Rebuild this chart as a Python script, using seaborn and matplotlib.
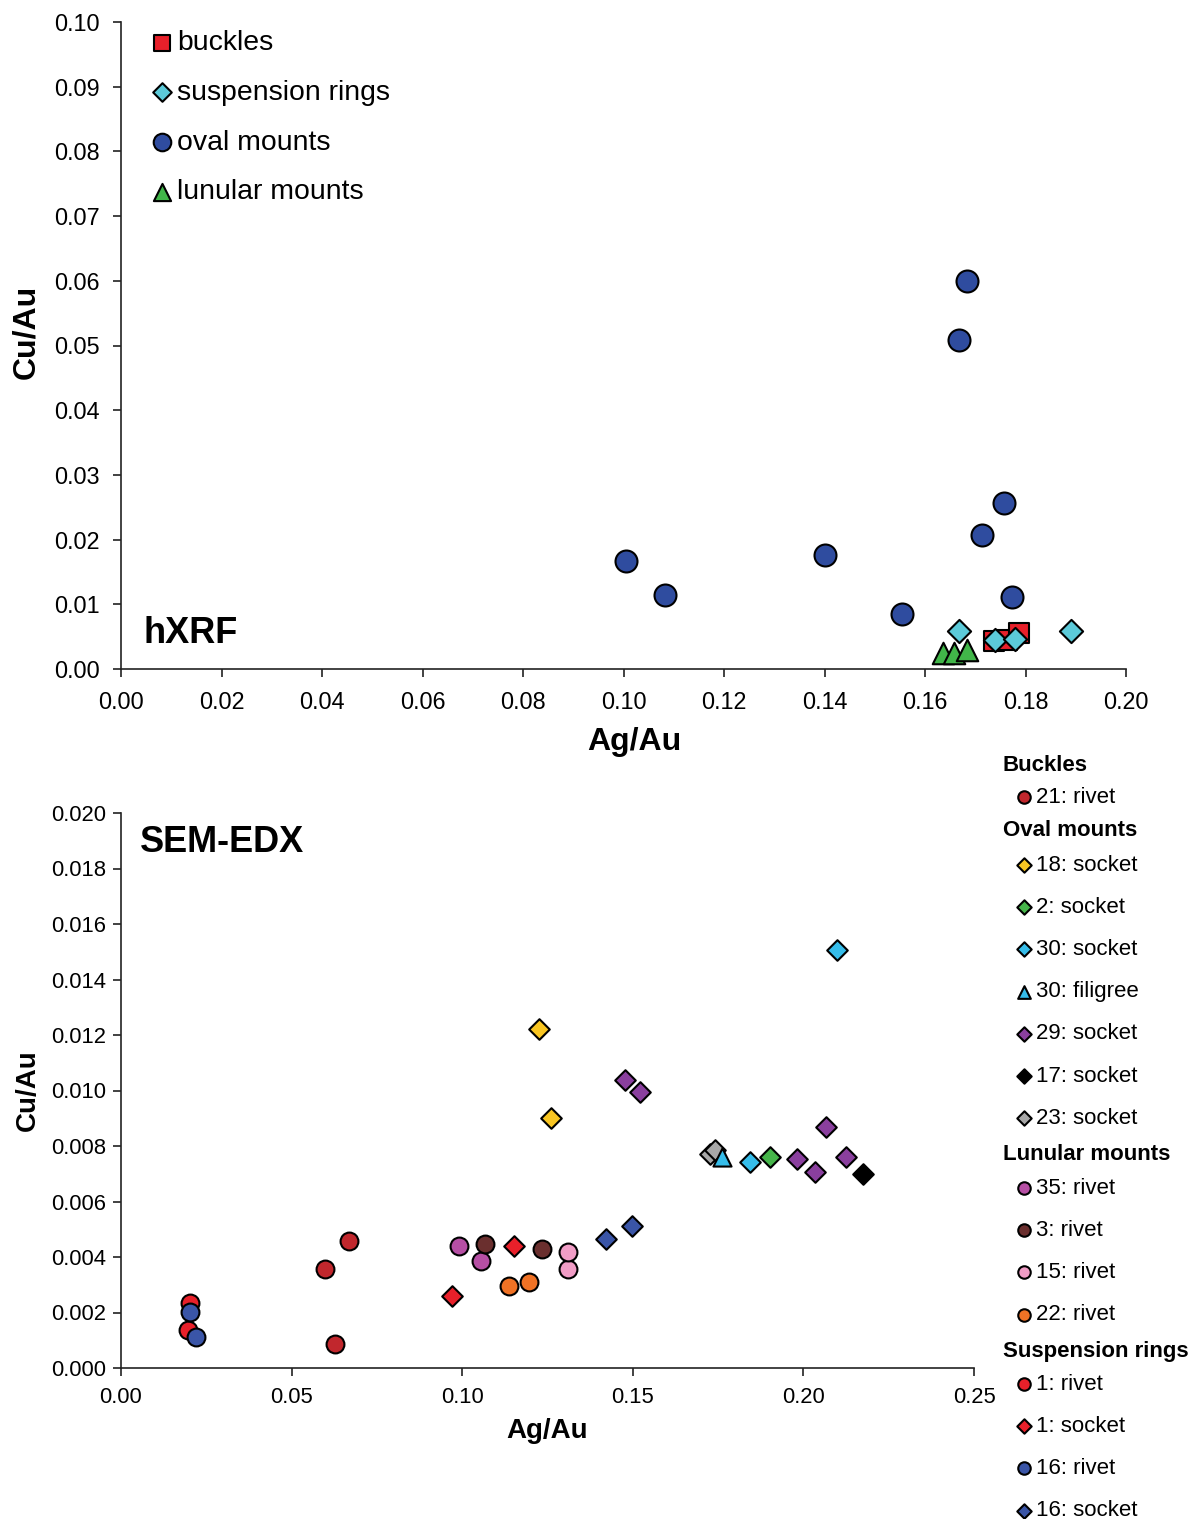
import matplotlib
matplotlib.use("Agg")
import matplotlib.pyplot as plt
import seaborn as sns
import pandas as pd
import numpy as np
from matplotlib.ticker import FormatStrFormatter, MultipleLocator

# ---------------- data: hXRF (top) ----------------
buckles_x = [0.1738, 0.1763, 0.1787]
buckles_y = [0.0044, 0.0045, 0.0055]
rings_x = [0.1667, 0.1740, 0.1780, 0.1890]
rings_y = [0.0058, 0.0045, 0.0046, 0.0058]
oval_x = [0.1004, 0.1082, 0.1400, 0.1554, 0.1667, 0.1683, 0.1713, 0.1757, 0.1773]
oval_y = [0.0167, 0.0114, 0.0176, 0.0085, 0.0508, 0.0600, 0.0207, 0.0257, 0.0111]
lunular_x = [0.1636, 0.1657, 0.1684]
lunular_y = [0.0025, 0.0025, 0.0029]
top_labels = ["buckles", "suspension rings", "oval mounts", "lunular mounts"]

# ---------------- data: SEM-EDX (bottom) ----------------
b21_rivet_x = [0.0669, 0.0599, 0.0626]
b21_rivet_y = [0.00459, 0.00357, 0.00087]
o18_socket_x = [0.1224, 0.1259]
o18_socket_y = [0.01222, 0.00901]
o2_socket_x = [0.1901]
o2_socket_y = [0.00759]
o30_socket_x = [0.1843, 0.2098]
o30_socket_y = [0.00743, 0.01506]
o30_filigree_x = [0.1760]
o30_filigree_y = [0.00762]
o29_socket_x = [0.1476, 0.1520, 0.2067, 0.1982, 0.2034, 0.2124]
o29_socket_y = [0.01038, 0.00994, 0.00867, 0.00753, 0.00705, 0.00761]
o17_socket_x = [0.2176]
o17_socket_y = [0.00700]
o23_socket_x = [0.1726, 0.1742]
o23_socket_y = [0.00771, 0.00787]
l35_rivet_x = [0.0991, 0.1055]
l35_rivet_y = [0.00440, 0.00387]
l3_rivet_x = [0.1067, 0.1234]
l3_rivet_y = [0.00447, 0.00430]
l15_rivet_x = [0.1311, 0.1311]
l15_rivet_y = [0.00357, 0.00419]
l22_rivet_x = [0.1136, 0.1196]
l22_rivet_y = [0.00295, 0.00311]
s1_rivet_x = [0.0201, 0.0195]
s1_rivet_y = [0.00236, 0.00138]
s1_socket_x = [0.0971, 0.1151]
s1_socket_y = [0.00261, 0.00440]
s16_rivet_x = [0.0203, 0.0220]
s16_rivet_y = [0.00202, 0.00110]
s16_socket_x = [0.1420, 0.1498]
s16_socket_y = [0.00465, 0.00511]

groups = ["Buckles", "Oval mounts", "Lunular mounts", "Suspension rings"]

sns.set_style("ticks")
plt.rcParams['font.family'] = ['Liberation Sans', 'DejaVu Sans']
plt.rcParams['text.color'] = 'black'
plt.rcParams['axes.labelcolor'] = 'black'
plt.rcParams['xtick.color'] = 'black'
plt.rcParams['ytick.color'] = 'black'

W, H = 1200, 1519
fig = plt.figure(figsize=(W / 100, H / 100), dpi=100)

def fx(px):
    return px / W

def fy(py):
    return 1 - py / H

EC = "black"
LW = 1.5

# ---------------- top axes ----------------
ax1 = fig.add_axes([fx(121), fy(669), (1126 - 121) / W, (669 - 22) / H])
sns.scatterplot(x=buckles_x, y=buckles_y, marker="s", s=190, color="#E8202A",
                edgecolor=EC, linewidth=LW, label=top_labels[0], ax=ax1, zorder=3)
sns.scatterplot(x=rings_x, y=rings_y, marker="D", s=140, color="#5CCAD9",
                edgecolor=EC, linewidth=LW, label=top_labels[1], ax=ax1, zorder=4)
sns.scatterplot(x=oval_x, y=oval_y, marker="o", s=250, color="#2F4C9F",
                edgecolor=EC, linewidth=LW, label=top_labels[2], ax=ax1, zorder=3)
sns.scatterplot(x=lunular_x, y=lunular_y, marker="^", s=240, color="#41B649",
                edgecolor=EC, linewidth=LW, label=top_labels[3], ax=ax1, zorder=3)
if ax1.get_legend():
    ax1.get_legend().remove()

ax1.set_xlim(0, 0.20)
ax1.set_ylim(0, 0.10)
ax1.xaxis.set_major_locator(MultipleLocator(0.02))
ax1.yaxis.set_major_locator(MultipleLocator(0.01))
ax1.xaxis.set_major_formatter(FormatStrFormatter("%.2f"))
ax1.yaxis.set_major_formatter(FormatStrFormatter("%.2f"))
ax1.tick_params(labelsize=16.8, length=5.5, width=1.2, color="#222222")
ax1.tick_params(axis="x", pad=10.5)
ax1.tick_params(axis="y", pad=10)
ax1.set_xlabel("Ag/Au", fontsize=23, fontweight="bold")
ax1.set_ylabel("Cu/Au", fontsize=23, fontweight="bold")
ax1.xaxis.set_label_coords(0.511, -0.09)
ax1.yaxis.set_label_coords(-0.079, 0.521)
for sp in ["top", "right"]:
    ax1.spines[sp].set_visible(False)
for sp in ["left", "bottom"]:
    ax1.spines[sp].set_linewidth(1.2)
    ax1.spines[sp].set_color("#222222")
ax1.text(0.022, 0.055, "hXRF", transform=ax1.transAxes, fontsize=26,
         fontweight="bold", ha="left", va="center")

h1, l1 = ax1.get_legend_handles_labels()
leg1 = ax1.legend(h1, l1, loc="upper left", bbox_to_anchor=(fx(153), fy(30)),
                  bbox_transform=fig.transFigure, frameon=False, fontsize=20.4,
                  markerscale=0.8, handlelength=0.6, handletextpad=0.25,
                  labelspacing=0.84, borderpad=0, borderaxespad=0)

# ---------------- bottom axes ----------------
ax2 = fig.add_axes([fx(121), fy(1368), (974 - 121) / W, (1368 - 813) / H])
SC, SD, ST = 165, 110, 170
series = [
    ("21: rivet", b21_rivet_x, b21_rivet_y, "o", "#C1272D", SC),
    ("18: socket", o18_socket_x, o18_socket_y, "D", "#F9C623", SD),
    ("2: socket", o2_socket_x, o2_socket_y, "D", "#46B54A", SD),
    ("30: socket", o30_socket_x, o30_socket_y, "D", "#36BDEA", SD),
    ("23: socket", o23_socket_x, o23_socket_y, "D", "#A7A7A7", SD),
    ("30: filigree", o30_filigree_x, o30_filigree_y, "^", "#36BDEA", ST),
    ("29: socket", o29_socket_x, o29_socket_y, "D", "#8A3F9E", SD),
    ("17: socket", o17_socket_x, o17_socket_y, "D", "#000000", SD),
    ("35: rivet", l35_rivet_x, l35_rivet_y, "o", "#B64FA4", SC),
    ("3: rivet", l3_rivet_x, l3_rivet_y, "o", "#6A2F2E", SC),
    ("15: rivet", l15_rivet_x, l15_rivet_y, "o", "#F19DC6", SC),
    ("22: rivet", l22_rivet_x, l22_rivet_y, "o", "#F07225", SC),
    ("1: rivet", s1_rivet_x, s1_rivet_y, "o", "#E8202A", SC),
    ("1: socket", s1_socket_x, s1_socket_y, "D", "#E8202A", SD),
    ("16: rivet", s16_rivet_x, s16_rivet_y, "o", "#3A55A7", SC),
    ("16: socket", s16_socket_x, s16_socket_y, "D", "#3A55A7", SD),
]
for lab, xs, ys, m, c, s in series:
    sns.scatterplot(x=xs, y=ys, marker=m, s=s, color=c, edgecolor=EC,
                    linewidth=LW, label=lab, ax=ax2, zorder=3)
if ax2.get_legend():
    ax2.get_legend().remove()

ax2.set_xlim(0, 0.25)
ax2.set_ylim(0, 0.020)
ax2.xaxis.set_major_locator(MultipleLocator(0.05))
ax2.yaxis.set_major_locator(MultipleLocator(0.002))
ax2.xaxis.set_major_formatter(FormatStrFormatter("%.2f"))
ax2.yaxis.set_major_formatter(FormatStrFormatter("%.3f"))
ax2.tick_params(labelsize=15.8, length=5.5, width=1.2, color="#222222")
ax2.tick_params(axis="x", pad=8.5)
ax2.tick_params(axis="y", pad=5)
ax2.set_xlabel("Ag/Au", fontsize=20, fontweight="bold")
ax2.set_ylabel("Cu/Au", fontsize=20, fontweight="bold")
ax2.xaxis.set_label_coords(0.5, -0.09)
ax2.yaxis.set_label_coords(-0.094, 0.5)
for sp in ["top", "right"]:
    ax2.spines[sp].set_visible(False)
for sp in ["left", "bottom"]:
    ax2.spines[sp].set_linewidth(1.2)
    ax2.spines[sp].set_color("#222222")
ax2.text(0.022, 0.946, "SEM-EDX", transform=ax2.transAxes, fontsize=26,
         fontweight="bold", ha="left", va="center")

h2, l2 = ax2.get_legend_handles_labels()
hmap = dict(zip(l2, h2))
group_entries = {
    "Buckles": ["21: rivet"],
    "Oval mounts": ["18: socket", "2: socket", "30: socket", "30: filigree",
                    "29: socket", "17: socket", "23: socket"],
    "Lunular mounts": ["35: rivet", "3: rivet", "15: rivet", "22: rivet"],
    "Suspension rings": ["1: rivet", "1: socket", "16: rivet", "16: socket"],
}
header_y = {"Buckles": 765, "Oval mounts": 830, "Lunular mounts": 1155,
            "Suspension rings": 1352}
first_y = {"Buckles": 796, "Oval mounts": 864, "Lunular mounts": 1187,
           "Suspension rings": 1383}
for g in groups:
    fig.text(fx(1003), fy(header_y[g]), g, fontsize=16, fontweight="bold",
             ha="left", va="center")
    labs = group_entries[g]
    lg = fig.legend([hmap[l] for l in labs], labs, loc="upper left",
                    bbox_to_anchor=(fx(1018), fy(first_y[g] - 9)),
                    frameon=False, fontsize=16, markerscale=0.7,
                    handlelength=0.5, handletextpad=0.3, labelspacing=0.95,
                    borderpad=0, borderaxespad=0)

fig.savefig("out.png", dpi=100)
